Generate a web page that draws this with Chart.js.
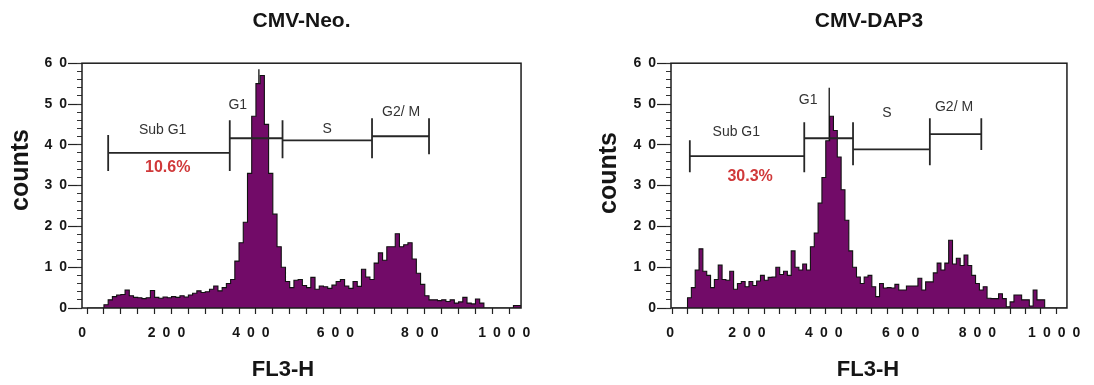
<!DOCTYPE html>
<html>
<head>
<meta charset="utf-8">
<title>Cell cycle histograms</title>
<script src="https://cdn.jsdelivr.net/npm/chart.js@4.4.1/dist/chart.umd.min.js"></script>
<style>
  html, body { margin: 0; padding: 0; background: #fff; }
  body { width: 1094px; height: 385px; position: relative; overflow: hidden; }
  canvas { position: absolute; top: 0; }
  #neo { left: 0; }
  #dap { left: 589px; }
</style>
</head>
<body>
<canvas id="neo" width="547" height="385"></canvas>
<canvas id="dap" width="505" height="385"></canvas>
<script>
// FL3-H channel bins: each value is the count for a 10-unit bin starting at 0
var binWidth = 10;
var neoCounts = [
  0, 0, 0, 0, 0.8, 2.0, 2.8, 3.2, 3.3, 4.4,
  3.0, 2.6, 2.5, 2.3, 2.5, 4.3, 2.6, 2.4, 2.7, 2.5,
  2.8, 2.6, 3.0, 2.7, 3.2, 3.6, 4.2, 3.8, 4.0, 4.6,
  5.4, 4.2, 5.0, 6.0, 7.0, 11.5, 16, 21, 33, 47,
  55, 57, 45, 33, 23, 15, 10, 6.5, 5.0, 6.8,
  7.0, 5.5, 5.0, 7.5, 4.6, 5.4, 5.2, 4.8, 5.6, 6.5,
  7.0, 5.4, 4.8, 6.5, 5.3, 9.5, 7.6, 7.0, 11.0, 13.5,
  11.7, 15.0, 15.0, 18.2, 15.0, 15.5, 16.0, 12.0, 8.5, 5.8,
  3.0, 2.0, 2.0, 1.8, 2.0, 1.6, 2.0, 1.2, 1.5, 2.6,
  1.2, 1.0, 2.2, 1.2, 0, 0, 0, 0, 0, 0,
  0, 0.6, 0.6
];
var dapCounts = [
  0, 0, 0, 0, 2.5, 5.0, 9.3, 14.5, 9.0, 8.0,
  5.0, 7.0, 10.5, 7.0, 6.8, 9.0, 4.6, 6.0, 6.5, 5.2,
  6.5, 5.5, 6.6, 8.0, 6.8, 7.5, 7.6, 10.0, 8.2, 9.0,
  8.0, 14.0, 10.0, 9.3, 10.8, 9.3, 15.0, 18.4, 25.7, 32.0,
  41.0, 47.0, 43.5, 37.0, 29.0, 21.5, 14.0, 10.0, 7.6, 6.0,
  7.6, 8.0, 5.2, 2.8, 6.0, 4.9, 5.0, 4.9, 5.8, 4.4,
  4.4, 5.4, 5.4, 5.4, 7.3, 4.4, 6.4, 6.4, 8.6, 11.0,
  9.3, 11.0, 16.6, 10.8, 12.2, 10.4, 13.0, 10.4, 8.0, 6.0,
  4.4, 5.2, 2.4, 2.3, 2.3, 3.5, 2.3, 0.3, 1.5, 3.2,
  3.2, 2.0, 2.0, 0.5, 4.4, 2.0, 2.0, 0, 0, 0,
  0, 0, 0
];
// thin single-channel spikes on top of the G1 peaks [FL3-H, count]
var neoSpike = [407, 58.5];
var dapSpike = [409, 54];

// gates
var gateNames = ['Sub G1', 'G1', 'S', 'G2/ M'];
var neoGateFrom = [50, 338, 463, 675];
var neoGateTo = [338, 463, 675, 810];
var neoGateLevel = [38, 41.6, 41.1, 42.1];
var dapGateFrom = [46, 344, 471, 671];
var dapGateTo = [344, 471, 671, 805];
var dapGateLevel = [37.2, 41.6, 38.9, 42.6];
var neoGateLabelAt = [[179, 43.6], [357, 49.7], [569, 43.8], [744, 48]];
var dapGateLabelAt = [[167, 43.1], [354, 50.9], [559, 47.8], [734, 49.2]];
var neoSubG1Pct = '10.6%';
var dapSubG1Pct = '30.3%';
var neoPctAt = [191, 34.3];
var dapPctAt = [203, 32.3];

// axes
var xTicks = [0, 40, 80, 120, 160, 200, 240, 280, 320, 360, 400, 440, 480, 520, 560,
  600, 640, 680, 720, 760, 800, 840, 880, 920, 960, 1000];
var xLabelTicks = [0, 200, 400, 600, 800, 1000];
var yTicks = [0, 10, 20, 30, 40, 50, 60];
var yMinorTicks = [0, 2, 4, 6, 8, 10, 12, 14, 16, 18, 20, 22, 24, 26, 28, 30,
  32, 34, 36, 38, 40, 42, 44, 46, 48, 50, 52, 54, 56, 58, 60];
var xTitle = 'FL3-H';
var yTitle = 'counts';

var FONT = '"Liberation Sans", Arial, Helvetica, sans-serif';
Chart.defaults.font.family = FONT;

function spaced(v) {
  return String(v).split('').join('\u2002');
}

function histPoints(counts) {
  var pts = counts.map(function (c, i) { return { x: i * binWidth, y: c }; });
  pts.push({ x: counts.length * binWidth, y: 0 });
  return pts;
}

function spikePoints(spike, counts) {
  var base = counts[Math.floor(spike[0] / binWidth)];
  return [{ x: spike[0], y: base }, { x: spike[0], y: spike[1] }];
}

function gatePoints(from, to, level, cap) {
  var pts = [];
  for (var i = 0; i < from.length; i++) {
    pts.push({ x: from[i], y: level[i] }, { x: to[i], y: level[i] }, { x: to[i], y: null });
    pts.push({ x: from[i], y: level[i] - cap }, { x: from[i], y: level[i] + cap }, { x: from[i], y: null });
    pts.push({ x: to[i], y: level[i] - cap }, { x: to[i], y: level[i] + cap }, { x: to[i], y: null });
  }
  return pts;
}

function fixedTicks(values) {
  return function (scale) {
    scale.ticks = values.map(function (v) { return { value: v }; });
  };
}

var annotate = {
  id: 'annotate',
  afterDatasetsDraw: function (chart, args, o) {
    var ctx = chart.ctx, xs = chart.scales.x, ys = chart.scales.y, a = chart.chartArea;
    ctx.save();
    ctx.strokeStyle = '#1c1c1c';
    ctx.lineWidth = 1.5;
    ctx.strokeRect(a.left, a.top, a.right - a.left, a.bottom - a.top);

    ctx.textAlign = 'center';
    ctx.textBaseline = 'middle';
    ctx.fillStyle = '#333';
    ctx.font = '14px ' + FONT;
    gateNames.forEach(function (t, i) {
      ctx.fillText(t, xs.getPixelForValue(o.labelAt[i][0]), ys.getPixelForValue(o.labelAt[i][1]));
    });
    ctx.fillStyle = '#d0393a';
    ctx.font = 'bold 16px ' + FONT;
    ctx.fillText(o.pct, xs.getPixelForValue(o.pctAt[0]), ys.getPixelForValue(o.pctAt[1]));

    ctx.fillStyle = '#151515';
    ctx.font = 'bold 22px ' + FONT;
    ctx.fillText(xTitle, o.xTitlePos[0], o.xTitlePos[1]);
    ctx.translate(o.yTitlePos[0], o.yTitlePos[1]);
    ctx.rotate(-Math.PI / 2);
    ctx.font = 'bold 25px ' + FONT;
    ctx.fillText(yTitle, 0, 0);
    ctx.restore();
  }
};

function makeChart(id, cfg) {
  var tickFont = { size: 14, weight: 'bold' };
  return new Chart(document.getElementById(id), {
    type: 'line',
    data: {
      datasets: [
        {
          data: gatePoints(cfg.from, cfg.to, cfg.level, cfg.cap),
          borderColor: '#262626', borderWidth: 1.8, pointRadius: 0,
          fill: false, spanGaps: false, order: 0
        },
        {
          data: spikePoints(cfg.spike, cfg.counts),
          borderColor: '#111', borderWidth: 1.3, pointRadius: 0, fill: false, order: 1
        },
        {
          data: histPoints(cfg.counts),
          stepped: 'before',
          borderColor: '#111', borderWidth: 1.1,
          backgroundColor: '#720b68', fill: 'origin',
          pointRadius: 0, order: 2
        }
      ]
    },
    options: {
      responsive: false,
      animation: false,
      layout: { padding: { left: 0, right: cfg.padRight, top: 0, bottom: 0 } },
      plugins: {
        legend: { display: false },
        tooltip: { enabled: false },
        title: {
          display: true, text: cfg.title, fullSize: false,
          color: '#151515', font: { size: 21, weight: 'bold' },
          padding: { top: 9, bottom: 29 }
        },
        annotate: {
          labelAt: cfg.labelAt, pct: cfg.pct, pctAt: cfg.pctAt,
          xTitlePos: cfg.xTitlePos, yTitlePos: cfg.yTitlePos
        }
      },
      scales: {
        x: {
          type: 'linear', position: 'bottom', min: cfg.xMin, max: 1028,
          afterBuildTicks: fixedTicks(xTicks),
          afterFit: function (s) { s.height = 77; },
          border: { display: false },
          grid: { drawOnChartArea: false, tickLength: 6, tickColor: '#222', tickWidth: 1.2 },
          ticks: {
            autoSkip: false, maxRotation: 0, padding: 11, labelOffset: cfg.labelOffset,
            color: '#161616', font: tickFont,
            callback: function (v) { return xLabelTicks.indexOf(v) >= 0 ? spaced(v) : ''; }
          }
        },
        y: {
          type: 'linear', position: 'left', min: 0, max: 60, weight: 1,
          afterBuildTicks: fixedTicks(yTicks),
          afterFit: function (s) { s.width = 82; },
          border: { display: false },
          grid: { drawOnChartArea: false, tickLength: 14, tickColor: '#222', tickWidth: 1.2 },
          ticks: { padding: 1, color: '#161616', font: tickFont, callback: function (v) { return spaced(v); } }
        },
        yMinor: {
          type: 'linear', position: 'left', min: 0, max: 60, weight: 0,
          afterBuildTicks: fixedTicks(yMinorTicks),
          afterFit: function (s) { s.width = 0; },
          border: { display: false },
          grid: { drawOnChartArea: false, tickLength: 5, tickColor: '#333', tickWidth: 1 },
          ticks: { display: false }
        }
      }
    },
    plugins: [annotate]
  });
}

makeChart('neo', {
  title: 'CMV-Neo.', counts: neoCounts, spike: neoSpike,
  from: neoGateFrom, to: neoGateTo, level: neoGateLevel, cap: 4.4,
  labelAt: neoGateLabelAt, pct: neoSubG1Pct, pctAt: neoPctAt,
  xMin: -12, padRight: 25, labelOffset: -5,
  xTitlePos: [283, 370], yTitlePos: [21, 170]
});
makeChart('dap', {
  title: 'CMV-DAP3', counts: dapCounts, spike: dapSpike,
  from: dapGateFrom, to: dapGateTo, level: dapGateLevel, cap: 3.9,
  labelAt: dapGateLabelAt, pct: dapSubG1Pct, pctAt: dapPctAt,
  xMin: -3, padRight: 16, labelOffset: -2,
  xTitlePos: [279, 370], yTitlePos: [20, 173]
});
</script>
</body>
</html>
